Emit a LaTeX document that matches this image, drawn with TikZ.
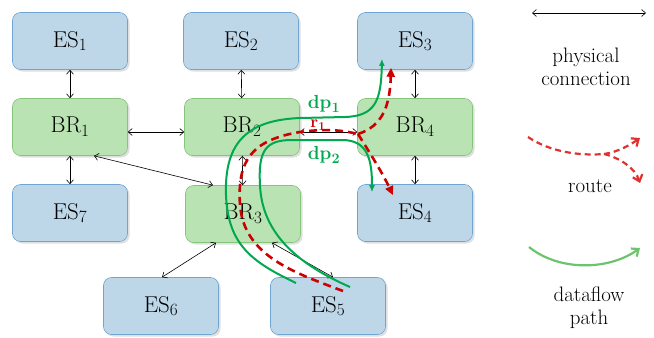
\documentclass[tikz,border=0pt]{standalone}
\usepackage{tikz}
\usetikzlibrary{arrows.meta,shadows,positioning}
\definecolor{esfill}{HTML}{BDD7E9}
\definecolor{esdraw}{HTML}{6FA5D2}
\definecolor{brfill}{HTML}{B9E3B2}
\definecolor{brdraw}{HTML}{86C47C}
\definecolor{dpgreen}{HTML}{00A84F}
\definecolor{rtred}{HTML}{CC0000}
\definecolor{legred}{HTML}{E23030}
\definecolor{leggreen}{HTML}{6CC46C}
\begin{document}
\begin{tikzpicture}[x=1bp, y=-1bp, inner sep=1pt,
   box/.style={rounded corners=8bp, minimum width=115bp, minimum height=57bp,
     line width=0.6bp, font=\fontsize{23}{26}\selectfont,
     drop shadow={opacity=0.25, shadow xshift=2bp, shadow yshift=-2bp}},
   es/.style={box, fill=esfill, draw=esdraw},
   br/.style={box, fill=brfill, draw=brdraw},
   phys/.style={{Straight Barb[length=4bp,width=7bp]}-{Straight Barb[length=4bp,width=7bp]}, line width=0.6bp},
   dpath/.style={dpgreen, line width=2bp, -{Latex[length=7bp,width=6bp]}},
   route/.style={rtred, line width=2.6bp, dash pattern=on 8bp off 5bp, -{Triangle[length=9bp,width=8bp]}},
   tag/.style={font=\fontsize{19}{21}\selectfont\bfseries},
   legtext/.style={font=\fontsize{21}{23}\selectfont, align=center}
   ]

   \useasboundingbox (0,0) rectangle (654,337);

   \path (70,41) node[es] (ES1) {ES$_1$}
   (241,41) node[es] (ES2) {ES$_2$}
   (415,41) node[es] (ES3) {ES$_3$};
   \path (70,127) node[br] (BR1) {BR$_1$}
   (242,127) node[br] (BR2) {BR$_2$}
   (415,127) node[br] (BR4) {BR$_4$};
   \path (70,213) node[es] (ES7) {ES$_7$}
   (243,214) node[br] (BR3) {BR$_3$}
   (415,213) node[es] (ES4) {ES$_4$};
   \path (161,306) node[es] (ES6) {ES$_6$}
   (328,306) node[es] (ES5) {ES$_5$};

   \draw[phys] (ES1) -- (BR1);
   \draw[phys] (ES2) -- (BR2);
   \draw[phys] (ES3.south) -- (BR4.north);
   \draw[phys] (BR1) -- (ES7);
   \draw[phys] (BR2) -- (BR3);
   \draw[phys] (BR4) -- (ES4);
   \draw[phys] ([yshift=-5bp]BR1.east) -- ([yshift=-5bp]BR2.west);
   \draw[phys] ([yshift=-5bp]BR2.east) -- ([yshift=-5bp]BR4.west);
   \draw[phys] ([xshift=24bp]BR1.south) -- ([xshift=-30bp]BR3.north);
   \draw[phys] ([xshift=-27bp]BR3.south) -- ([xshift=1bp]ES6.north);
   \draw[phys] ([xshift=29bp]BR3.south) -- ([xshift=5bp]ES5.north);

   % dataflow paths
   \coordinate (dpAs) at (296,283);
   \coordinate (dpAe) at ([xshift=-33bp, yshift=11bp]ES3.south);
   \coordinate (dpBs) at (350,287);
   \coordinate (dpBe) at ([xshift=-43bp, yshift=-8bp]ES4.north);
   \draw[dpath] (dpAs) .. controls (252,262) and (228,245) .. (226,195)
     .. controls (224,140) and (250,120) .. (300,118)
     -- (345,117) .. controls (376,116) and (381,100) .. (dpAe);
   \draw[dpath] (dpBs) .. controls (300,265) and (262,235) .. (260,185)
     .. controls (258,150) and (266,140) .. (292,140)
     -- (342,140) .. controls (368,140) and (372,160) .. (dpBe);

   % route
   \coordinate (rts) at (343,291);
   \coordinate (rtm) at (358,134);
   \coordinate (rtAe) at ([xshift=-24bp, yshift=2bp]ES3.south);
   \coordinate (rtBe) at ([xshift=-22bp, yshift=-11bp]ES4.north);
   \draw[route, -] (rts) .. controls (292,272) and (244,255) .. (240,205)
     .. controls (237,160) and (252,140) .. (300,132)
     .. controls (330,128) and (345,131) .. (rtm);
   \draw[route] (rtm) .. controls (383,126) and (390,105) .. (rtAe);
   \draw[route] (rtm) .. controls (368,150) and (382,172) .. (rtBe);

   \path (324,104) node[tag, dpgreen] (dpA) {dp$_{\mathbf{1}}$}
   (318,125) node[tag, rtred, font=\fontsize{17}{19}\selectfont\bfseries] (rA) {r$_{\mathbf{1}}$}
   (324,155) node[tag, dpgreen] (dpB) {dp$_{\mathbf{2}}$};

   % legend
   \coordinate (lgA) at (532,13);
   \coordinate (lgB) at (646,13);
   \draw[phys] (lgA) -- (lgB);
   \path (586,67) node[legtext] (lgphys) {physical\\connection};

   \coordinate (lgr1) at (528,137);
   \coordinate (lgr2) at (604,154);
   \coordinate (lgr3) at (640,138);
   \coordinate (lgr4) at (640,183);
   \draw[legred, line width=2.2bp, dash pattern=on 6bp off 4bp]
     (lgr1) .. controls (550,152) and (580,156) .. (lgr2);
   \draw[legred, line width=2.2bp, dash pattern=on 6bp off 4bp, -{Straight Barb[length=6bp,width=10bp]}]
     (lgr2) .. controls (618,152) and (630,145) .. (lgr3);
   \draw[legred, line width=2.2bp, dash pattern=on 6bp off 4bp, -{Straight Barb[length=6bp,width=10bp]}]
     (lgr2) .. controls (620,158) and (635,168) .. (lgr4);
   \path (590,186) node[legtext] (lgroute) {route};

   \coordinate (lgd1) at (529,247);
   \coordinate (lgd2) at (640,248);
   \draw[leggreen, line width=2.2bp, -{Straight Barb[length=6bp,width=10bp]}]
     (lgd1) .. controls (560,272) and (610,270) .. (lgd2);
   \path (589,308) node[legtext] (lgflow) {dataflow\\path};

\end{tikzpicture}
\end{document}
